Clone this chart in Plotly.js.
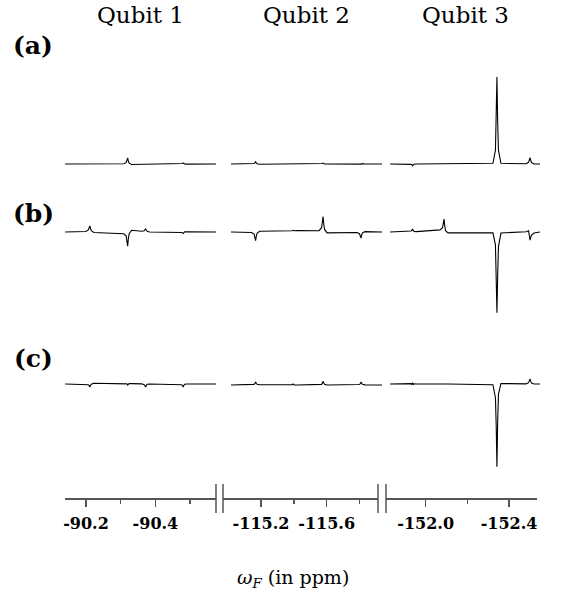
<!DOCTYPE html>
<html>
<head>
<meta charset="utf-8">
<script src="https://cdn.plot.ly/plotly-3.0.1.min.js"></script>
<style>html,body{margin:0;padding:0;background:#fff}#chart{width:565px;height:593px}</style>
</head>
<body>
<div id="chart"></div>
<script>
// ---- sampling positions (ppm) for each qubit window ----
const seg1X = [-90.140, -90.1995, -90.2067, -90.209, -90.211, -90.213, -90.2153, -90.2225,
  -90.3085, -90.3157, -90.318, -90.320, -90.322, -90.3243, -90.3315,
  -90.3605, -90.3677, -90.370, -90.372, -90.374, -90.3763, -90.3835,
  -90.4685, -90.4757, -90.478, -90.480, -90.482, -90.4843, -90.4915, -90.575];
const seg2X = [-115.017, -115.1426, -115.1579, -115.1627, -115.167, -115.1713, -115.1761, -115.1914,
  -115.3706, -115.3859, -115.3907, -115.395, -115.3993, -115.4041, -115.4194,
  -115.5536, -115.5689, -115.5737, -115.578, -115.5823, -115.5871, -115.6024,
  -115.7846, -115.7999, -115.8047, -115.809, -115.8133, -115.8181, -115.8334, -115.937];
const seg3X = [-151.829, -151.9178, -151.9298, -151.9336, -151.937, -151.9404, -151.9442, -151.9562,
  -152.0688, -152.0808, -152.0846, -152.088, -152.0914, -152.0952, -152.1072,
  -152.3228, -152.3348, -152.3386, -152.342, -152.3454, -152.3492, -152.3612,
  -152.4818, -152.4938, -152.4976, -152.501, -152.5044, -152.5082, -152.5202, -152.549];

// ---- spectrum intensities (a), (b), (c) ----
const rowA1 = [0, 0, 0, 0.002, 0.006, 0.002, 0, 0, 0.003, 0.015, 0.035, 0.07, 0.035, 0.01, -0.006,
  -0.004, -0.004, -0.003, -0.001, -0.004, -0.004, -0.003, -0.002, 0, 0.005, 0.012, 0.005, 0, -0.001, 0];
const rowA2 = [0, 0, 0.006, 0.013, 0.025, 0.012, 0.004, -0.003, 0, 0, -0.002, -0.006, -0.002, 0, 0,
  0, 0.002, 0.005, 0.01, 0.004, 0, 0, 0, -0.003, -0.006, -0.002, 0.004, 0.002, 0, 0];
const rowA3 = [0, 0, -0.004, -0.01, -0.02, -0.008, -0.002, 0, 0, 0, 0.002, 0.004, 0.002, 0, 0,
  0.008, 0.16, 0.5, 1.01, 0.5, 0.16, 0.008, 0.003, 0.02, 0.04, 0.075, 0.04, 0.015, 0.002, 0];

const rowB1 = [0, 0.005, 0.025, 0.045, 0.07, 0.04, 0.015, -0.005, -0.02, -0.045, -0.09, -0.165, -0.08, -0.02, 0.02,
  0.008, 0.015, 0.025, 0.035, 0.02, 0.008, 0, 0, -0.005, -0.01, -0.018, -0.008, 0.002, 0.002, 0];
const rowB2 = [0, -0.005, -0.025, -0.055, -0.1, -0.05, -0.015, 0.008, 0.01, 0.012, 0.014, 0.02, 0.016, 0.015, 0.018,
  0.015, 0.05, 0.1, 0.18, 0.09, 0.03, -0.01, -0.005, -0.02, -0.04, -0.07, -0.035, -0.01, 0.004, 0];
const rowB3 = [0, 0.003, 0.012, 0.02, 0.035, 0.018, 0.006, 0.004, 0.025, 0.05, 0.09, 0.15, 0.07, 0.015, -0.01,
  -0.01, -0.15, -0.5, -0.94, -0.52, -0.17, -0.012, 0.003, 0.015, -0.03, -0.095, -0.06, -0.035, -0.012, 0];

const rowC1 = [0, 0, -0.008, -0.018, -0.035, -0.015, -0.003, 0.008, 0.01, 0.008, 0.002, -0.012, 0, 0.004, 0.004,
  0.002, -0.008, -0.018, -0.035, -0.015, -0.003, 0, 0, -0.008, -0.018, -0.035, -0.015, -0.003, 0, 0];
const rowC2 = [-0.012, -0.012, -0.004, 0.006, 0.023, 0.008, -0.004, -0.008, -0.012, -0.012, -0.008, 0, -0.008, -0.012, -0.012,
  -0.012, -0.004, 0.01, 0.033, 0.012, -0.004, -0.012, -0.012, -0.006, 0.004, 0.023, 0.01, -0.004, -0.01, -0.012];
const rowC3 = [0, 0, 0.004, -0.006, 0.015, -0.005, 0.002, 0, 0, 0, 0.002, 0.005, 0.002, 0, 0,
  -0.008, -0.16, -0.5, -0.962, -0.45, -0.12, 0.006, 0.002, 0.015, 0.03, 0.058, 0.03, 0.01, 0, 0];

// ---- labels and ticks ----
const columnTitles = ['Qubit 1', 'Qubit 2', 'Qubit 3'];
const panelLabels = ['(a)', '(b)', '(c)'];
const tick1Vals = [-90.2, -90.4];   const tick1Text = ['-90.2', '-90.4'];   const minor1Vals = [-90.3, -90.5];
const tick2Vals = [-115.2, -115.6]; const tick2Text = ['-115.2', '-115.6']; const minor2Vals = [-115.4, -115.8];
const tick3Vals = [-152.0, -152.4]; const tick3Text = ['-152.0', '-152.4']; const minor3Vals = [-152.2];
const axisTitle = '<i>ω</i><sub><i>F</i></sub> (in ppm)';

// ---- build ----
const W = 565, H = 593;
const px = v => v / W;
const py = v => 1 - v / H;

const segX = [seg1X, seg2X, seg3X];
const rows = [[rowA1, rowA2, rowA3], [rowB1, rowB2, rowB3], [rowC1, rowC2, rowC3]];
const yNames = ['y', 'y2', 'y3'];
const traces = [];
rows.forEach((row, r) => {
  row.forEach((ys, s) => {
    traces.push({
      x: segX[s], y: ys, type: 'scatter', mode: 'lines',
      xaxis: 'x' + (4 + s), yaxis: yNames[r],
      line: {color: '#000', width: 1.1, shape: 'linear'},
      hoverinfo: 'skip', showlegend: false
    });
  });
});
// empty traces so the three pieces of the broken ppm axis get their own subplots
['x', 'x2', 'x3'].forEach(ax => {
  traces.push({x: [], y: [], type: 'scatter', mode: 'lines', xaxis: ax, yaxis: 'y4', showlegend: false, hoverinfo: 'skip'});
});

const axisColor = '#555';
function visAxis(dom, range, tv, tt, mv) {
  return {
    domain: dom, range: range, autorange: false, anchor: 'y4',
    showline: true, linecolor: axisColor, linewidth: 1.5,
    showgrid: false, zeroline: false,
    ticks: 'outside', ticklen: 7, tickwidth: 1.5, tickcolor: axisColor,
    ticklabelstandoff: 3,
    tickmode: 'array', tickvals: tv, ticktext: tt,
    tickfont: {family: 'DejaVu Serif', size: 16, color: '#000', weight: 'bold'},
    minor: {tickmode: 'array', tickvals: mv, ticks: 'outside', ticklen: 4, tickwidth: 1.5, tickcolor: axisColor, showgrid: false},
    fixedrange: true
  };
}
function hidX(dom, range) {
  return {domain: dom, range: range, autorange: false, visible: false, anchor: 'y', fixedrange: true};
}
function hidY(dom, range) {
  return {domain: dom, range: range, autorange: false, visible: false, anchor: 'x4', fixedrange: true};
}

const layout = {
  width: W, height: H,
  margin: {l: 0, r: 0, t: 0, b: 0},
  paper_bgcolor: '#fff', plot_bgcolor: 'rgba(0,0,0,0)',
  showlegend: false,
  xaxis:  visAxis([px(65), px(216)], [-90.1395, -90.5746], tick1Vals, tick1Text, minor1Vals),
  xaxis2: visAxis([px(223), px(378)], [-114.9686, -115.9126], tick2Vals, tick2Text, minor2Vals),
  xaxis3: visAxis([px(386), px(537)], [-151.8094, -152.5343], tick3Vals, tick3Text, minor3Vals),
  xaxis4: hidX([px(65), px(216)], [-90.1395, -90.5746]),
  xaxis5: hidX([px(231), px(382)], [-115.0173, -115.9369]),
  xaxis6: hidX([px(390), px(540)], [-151.8286, -152.5487]),
  yaxis:  hidY([py(180), py(60)], [-0.186, 1.209]),
  yaxis2: hidY([py(330), py(190)], [-1.1395, 0.4884]),
  yaxis3: hidY([py(480), py(340)], [-1.1163, 0.5116]),
  yaxis4: {domain: [py(498), py(490)], range: [0, 1], autorange: false, visible: false, anchor: 'x', fixedrange: true},
  shapes: [],
  annotations: []
};

// axis break marks at the inner ends of the broken axis
[['x', 1], ['x2', 0], ['x2', 1], ['x3', 0]].forEach(([ax, xv]) => {
  layout.shapes.push({
    type: 'line', xref: ax + ' domain', yref: 'paper',
    x0: xv, x1: xv, y0: py(513), y1: py(484),
    line: {color: axisColor, width: 1.5}
  });
});

columnTitles.forEach((t, i) => {
  layout.annotations.push({
    text: t, xref: 'x' + (4 + i) + ' domain', yref: 'paper', x: 0.5, y: py(15),
    xanchor: 'center', yanchor: 'middle', showarrow: false,
    font: {family: 'DejaVu Serif', size: 23, color: '#000'}
  });
});
const panelY = [46, 213, 358];
panelLabels.forEach((t, i) => {
  layout.annotations.push({
    text: '<b>' + t + '</b>', xref: 'paper', yref: 'paper', x: px(33), y: py(panelY[i]),
    xanchor: 'center', yanchor: 'middle', showarrow: false,
    font: {family: 'DejaVu Serif', size: 25, color: '#000'}
  });
});
layout.annotations.push({
  text: axisTitle, xref: 'paper', yref: 'paper', x: px(293), y: py(578),
  xanchor: 'center', yanchor: 'middle', showarrow: false,
  font: {family: 'DejaVu Serif', size: 19, color: '#000'}
});

Plotly.newPlot('chart', traces, layout, {displayModeBar: false, staticPlot: true});
</script>
</body>
</html>
